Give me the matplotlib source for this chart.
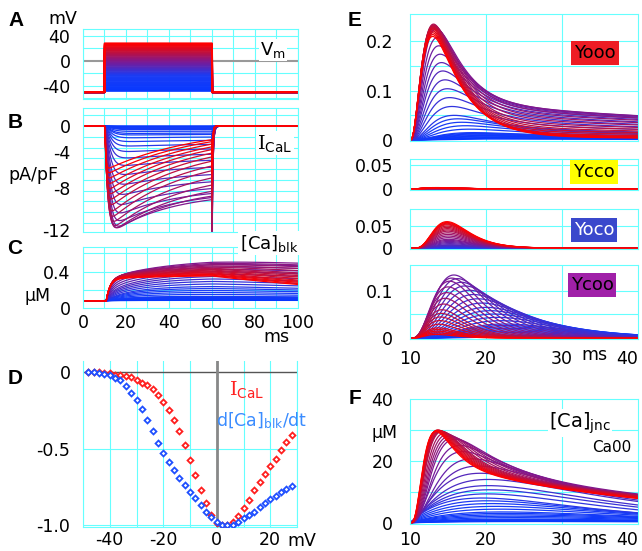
import numpy as np
import matplotlib
matplotlib.use('Agg')
import matplotlib.pyplot as plt
from matplotlib.colors import LinearSegmentedColormap

plt.rcParams['font.family'] = ['DejaVu Sans']
plt.rcParams['mathtext.fontset'] = 'dejavuserif'
plt.rcParams['axes.unicode_minus'] = False

# ---------------- data ----------------
voltages = list(range(-48, 30, 2))          # test potentials (mV), 39 steps
holding = -50                                # holding potential (mV)
pulse_on, pulse_off = 10, 60                 # ms

# Panel D: normalised peak ICaL and peak d[Ca]blk/dt
ical_norm = [0.0, -0.002, -0.004, -0.007, -0.011, -0.018, -0.022, -0.028, -0.035, -0.052,
             -0.072, -0.087, -0.115, -0.152, -0.196, -0.25, -0.313, -0.387, -0.476, -0.572,
             -0.672, -0.772, -0.854, -0.93, -0.985, -1.0, -1.0, -0.978, -0.937, -0.887,
             -0.833, -0.772, -0.717, -0.665, -0.615, -0.565, -0.511, -0.459, -0.413]
dca_norm = [0.0, -0.002, -0.007, -0.013, -0.022, -0.039, -0.054, -0.093, -0.135, -0.183,
            -0.241, -0.311, -0.385, -0.461, -0.528, -0.585, -0.637, -0.691, -0.737, -0.78,
            -0.824, -0.87, -0.913, -0.948, -0.98, -1.0, -1.0, -0.998, -0.978, -0.954,
            -0.933, -0.911, -0.883, -0.854, -0.828, -0.807, -0.785, -0.765, -0.741]

# Panel B: peak current and per-voltage kinetics (estimated)
ical_peak = 11.8                                     # pA/pF
vp = [-48, -30, -20, -10, 0, 10, 20, 28]
b_end_frac = [0.95, 0.93, 0.86, 0.76, 0.66, 0.45, 0.35, 0.30]
b_tau_act = [3.0, 2.5, 2.2, 1.8, 1.4, 0.8, 0.5, 0.4]
b_tau_inact = [40, 38, 34, 30, 28, 35, 40, 42]
b_tau_tail = [0.9, 0.8, 0.7, 0.5, 0.4, 0.35, 0.3, 0.3]

# Panel C: [Ca]blk
ca_base = 0.08
c_fast = [0.0, 0.004, 0.02, 0.10, 0.24, 0.26, 0.25, 0.24]
c_tfast = [3, 3, 3, 2.6, 2.2, 2.0, 1.9, 1.8]
c_slow = [0.004, 0.045, 0.14, 0.21, 0.22, 0.12, 0.07, 0.04]
c_tslow = [12, 12, 14, 20, 28, 30, 30, 30]
c_tdecay = [250, 250, 260, 300, 450, 200, 120, 90]

# Panel E: channel states (peak, rise tau, decay tau, plateau fraction)
yooo_A = [0.002, 0.015, 0.05, 0.14, 0.225, 0.235, 0.225, 0.21]
yooo_tr = [4.5, 3.5, 2.6, 2.0, 1.6, 1.45, 1.35, 1.3]
yooo_td = [10, 7, 5, 3.6, 3.2, 3.2, 3.5, 3.8]
yooo_c = [0.3, 0.22, 0.15, 0.13, 0.1, 0.05, 0.02, 0.01]
ycco_A = [0, 0, 0, 0.0003, 0.001, 0.002, 0.003, 0.003]
yoco_A = [0, 0.0005, 0.002, 0.008, 0.02, 0.038, 0.052, 0.059]
yoco_tr = [3.5, 3.3, 3.1, 2.9, 2.7, 2.6, 2.5, 2.5]
v4 = [-48, -30, -20, -10, -4, 0, 10, 20, 28]
ycoo_A = [0.003, 0.03, 0.065, 0.11, 0.133, 0.12, 0.06, 0.022, 0.008]
ycoo_tr = [9, 8, 6.5, 4.5, 3.4, 3.0, 2.3, 2.0, 1.9]
ycoo_td = [9, 7.5, 6, 4.5, 3.8, 3.5, 3.0, 2.7, 2.5]

# Panel F: [Ca]jnc
vF = [-48, -40, -30, -20, -14, -10, -4, 0, 10, 20, 28]
f_A = [0.4, 1.2, 3.5, 8, 12, 16, 23, 27, 29.5, 30, 29.5]
f_tr = [40, 32, 24, 13, 8, 5, 2.6, 1.9, 1.5, 1.4, 1.35]
f_n = [1, 1, 1, 1, 1.3, 1.8, 3, 4, 4, 4, 4]
f_td = [3, 3, 3, 3.5, 4, 5, 6, 5.5, 3.2, 2.5, 2.2]
f_c = [1, 1, 1, 1, 0.8, 0.6, 0.4, 0.34, 0.24, 0.19, 0.17]
f_ts = [20, 18, 16, 14, 18, 22, 28, 35, 33, 31, 30]

# ---------------- helpers ----------------
V = np.array(voltages, dtype=float)
nV = len(V)
def P(vlist, plist):
    return np.interp(V, vlist, plist)

cmap = LinearSegmentedColormap.from_list('bp', [(0, '#0838ff'), (0.33, '#1a3cf5'),
                                                (0.63, '#80188f'), (0.82, '#c0103c'),
                                                (1.0, '#ff0000')])
cols = [cmap(i / (nV - 1)) for i in range(nV)]

tB = np.linspace(0, 100, 4001)
tE = np.linspace(10, 40, 1201)

def shape(t, t0, A, tr, n, td, c, ts):
    s = np.clip(t - t0, 0, None)
    y = (1 - np.exp(-s / tr)) ** n * (c * np.exp(-s / ts) + (1 - c) * np.exp(-s / td))
    m = y.max()
    return A * y / m if m > 0 else y

W, H = 642, 551
fig = plt.figure(figsize=(W / 100, H / 100), dpi=100)

def add_ax(l, t, r, b):
    return fig.add_axes([l / W, 1 - b / H, (r - l) / W, (b - t) / H])

def ftext(x, y, s, **kw):
    kw.setdefault('ha', 'center')
    kw.setdefault('va', 'center')
    return fig.text(x / W, 1 - y / H, s, **kw)

GC = '#66ffff'
def style(ax, xl, yl, hgrid, vgrid, pad=8):
    ax.set_xlim(*xl)
    ax.set_ylim(*yl)
    for sp in ax.spines.values():
        sp.set_color(GC)
        sp.set_linewidth(0.8)
    ax.tick_params(length=0, labelsize=12.5, pad=pad)
    for y in hgrid:
        ax.axhline(y, color=GC, lw=0.8, zorder=0)
    for x in vgrid:
        ax.axvline(x, color=GC, lw=0.8, zorder=0)

# ---------------- A: voltage protocol ----------------
axA = add_ax(83, 29, 298, 99)
style(axA, (0, 100), (-61, 51), [-60, -40, -20, 20, 40], range(0, 101, 10), pad=9)
axA.axhline(0, color='#999999', lw=1.5, zorder=1)
for i in range(nV):
    vt = np.where((tB >= pulse_on) & (tB <= pulse_off), V[i], holding)
    axA.plot(tB, vt, color=cols[i], lw=1.4, zorder=2)
axA.set_xticks([])
axA.set_yticks([40, 0, -40])

# ---------------- B: ICaL ----------------
axB = add_ax(83, 108, 298, 232)
style(axB, (0, 100), (-12.3, 2.1), np.arange(-12.5, 2, 1.25), range(0, 101, 10), pad=9)
b_fe = P(vp, b_end_frac); b_ta = P(vp, b_tau_act); b_ti = P(vp, b_tau_inact); b_tt = P(vp, b_tau_tail)
Ipk = ical_peak * np.abs(np.array(ical_norm))
for i in range(nV):
    s = np.clip(tB - pulse_on, 0, None)
    e = np.exp(-50 / b_ti[i])
    f = max((b_fe[i] - e) / (1 - e), 0)
    y = (1 - np.exp(-s / b_ta[i])) ** 2 * (f + (1 - f) * np.exp(-s / b_ti[i]))
    on = tB <= pulse_off
    y = y / y[on].max()
    I = -Ipk[i] * y
    I60 = I[on][-1]
    aft = tB > pulse_off
    I[aft] = I60 * (110 / (60 - V[i])) * np.exp(-(tB[aft] - pulse_off) / b_tt[i])
    axB.plot(tB, I, color=cols[i], lw=0.9, zorder=2)
axB.set_xticks([])
# tick labels sit where the reference prints them (a little above the true -4 / -8 levels)
axB.set_yticks([0, -3.05, -7.2, -12.05])
axB.set_yticklabels(['0', '-4', '-8', '-12'])

# ---------------- C: [Ca]blk ----------------
axC = add_ax(83, 247, 298, 308)
style(axC, (0, 100), (0, 0.67), [0.2, 0.4, 0.6], range(0, 101, 10), pad=9)
cF = P(vp, c_fast); ctf = P(vp, c_tfast); cG = P(vp, c_slow); ctg = P(vp, c_tslow); ctd = P(vp, c_tdecay)
for i in range(nV):
    s = np.clip(tB - 10.8, 0, None)
    y = cF[i] * (1 - np.exp(-s / ctf[i])) + cG[i] * (1 - np.exp(-s / ctg[i]))
    dec = np.where(tB > pulse_off, np.exp(-(tB - pulse_off) / ctd[i]), 1.0)
    axC.plot(tB, ca_base + y * dec, color=cols[i], lw=0.9, zorder=2)
axC.set_xticks(range(0, 101, 20))
axC.set_yticks([0.4, 0])
axC.set_yticklabels(['0.4', '0'])
axC.tick_params(axis='x', pad=4)

# ---------------- D: I-V ----------------
axD = add_ax(83, 361, 297, 527)
style(axD, (-50, 30), (-1.01, 0.07), [-0.5, -1.0], range(-50, 31, 10), pad=9)
axD.spines['top'].set_visible(False)
axD.axhline(0, color='#555555', lw=1.0, zorder=1)
axD.axvline(0, color='#888888', lw=2.0, zorder=1)
axD.plot(voltages, ical_norm, ls='none', marker='D', ms=3.0, mfc='white', mec='#ff2020', mew=1.3, zorder=3)
axD.plot(voltages, dca_norm, ls='none', marker='D', ms=3.0, mfc='white', mec='#2050ff', mew=1.3, zorder=3)
axD.set_xticks([-40, -20, 0, 20])
axD.set_yticks([0, -0.5, -1.0])
axD.set_yticklabels(['0', '-0.5', '-1.0'])
axD.tick_params(axis='x', pad=3)

# ---------------- E: channel states ----------------
y1A = P(vp, yooo_A); y1tr = P(vp, yooo_tr); y1td = P(vp, yooo_td); y1c = P(vp, yooo_c)
y2A = P(vp, ycco_A)
y3A = P(vp, yoco_A); y3tr = P(vp, yoco_tr)
y4A = P(v4, ycoo_A); y4tr = P(v4, ycoo_tr); y4td = P(v4, ycoo_td)

axE1 = add_ax(410, 14, 638, 141)
style(axE1, (10, 40), (-0.002, 0.2555), [0.05, 0.1, 0.15, 0.2], [20, 30], pad=12)
axE2 = add_ax(410, 159, 638, 190)
style(axE2, (10, 40), (-0.0015, 0.062), [0.05], [20, 30], pad=12)
axE3 = add_ax(410, 209, 638, 249)
style(axE3, (10, 40), (-0.0015, 0.087), [0.05], [20, 30], pad=12)
axE4 = add_ax(410, 265, 638, 339)
style(axE4, (10, 40), (-0.0015, 0.154), [0.05, 0.1], [20, 30], pad=12)
for i in range(nV):
    axE1.plot(tE, shape(tE, 10, y1A[i], y1tr[i], 3, y1td[i], y1c[i], 60), color=cols[i], lw=0.9)
    axE2.plot(tE, shape(tE, 10, y2A[i], 2.0, 3, 3.0, 0.0, 60), color=cols[i], lw=1.2)
    axE3.plot(tE, shape(tE, 10, y3A[i], y3tr[i], 6, 2.5, 0.0, 60), color=cols[i], lw=0.9)
    axE4.plot(tE, shape(tE, 10, y4A[i], y4tr[i], 4, y4td[i], 0.0, 60), color=cols[i], lw=0.9)
for ax in (axE1, axE2, axE3):
    ax.set_xticks([])
axE1.set_yticks([0, 0.1, 0.2]); axE1.set_yticklabels(['0', '0.1', '0.2'])
axE2.set_yticks([0, 0.05]); axE2.set_yticklabels(['0', '0.05'])
axE3.set_yticks([0, 0.05]); axE3.set_yticklabels(['0', '0.05'])
axE4.set_yticks([0, 0.1]); axE4.set_yticklabels(['0', '0.1'])
axE4.set_xticks([10, 20, 30, 40])
axE4.tick_params(axis='x', pad=8)
axE4.get_xticklabels()[-1].set_ha('right')

# ---------------- F: [Ca]jnc ----------------
axF = add_ax(410, 399, 638, 524)
style(axF, (10, 40), (-0.4, 40), [10, 20, 30], [20, 30], pad=12)
fA = P(vF, f_A); ftr = P(vF, f_tr); fn = P(vF, f_n); ftd = P(vF, f_td); fc = P(vF, f_c); fts = P(vF, f_ts)
for i in range(nV):
    axF.plot(tE, shape(tE, 10, fA[i], ftr[i], fn[i], ftd[i], fc[i], fts[i]), color=cols[i], lw=0.9)
axF.set_xticks([10, 20, 30, 40])
axF.set_yticks([0, 20, 40])
axF.tick_params(axis='x', pad=5)
axF.get_xticklabels()[-1].set_ha('right')

# ---------------- texts ----------------
pl = dict(fontsize=15, fontweight='bold', family='Liberation Sans')
ftext(16, 20, 'A', **pl)
ftext(15, 123, 'B', **pl)
ftext(15, 249, 'C', **pl)
ftext(15, 379, 'D', **pl)
ftext(355, 20, 'E', **pl)
ftext(355, 398, 'F', **pl)

wb = dict(facecolor='white', edgecolor='none', pad=1)
ftext(63, 19, 'mV', fontsize=12.5)
ftext(273, 50, r'V$_{\mathsf{m}}$', fontsize=13, bbox=wb)
ftext(275, 143, r'$\mathrm{I}_{\mathsf{CaL}}$', fontsize=14, bbox=wb)
ftext(33, 175, 'pA/pF', fontsize=12.5)
ftext(269, 243, r'[Ca]$_{\mathsf{blk}}$', fontsize=13, bbox=wb)
ftext(38, 296, 'µM', fontsize=12.5)
ftext(276, 337, 'ms', fontsize=12.5)
ftext(247, 390, r'$\mathrm{I}_{\mathsf{CaL}}$', fontsize=14, color='#ff2020')
ftext(262, 421, r'd[Ca]$_{\mathsf{blk}}$/dt', fontsize=12.5, color='#3a8cff')
ftext(302, 541, 'mV', fontsize=12.5)

ftext(595, 53, 'Yooo', fontsize=13, bbox=dict(facecolor='#ee1c24', edgecolor='none', pad=2))
ftext(594, 172, 'Ycco', fontsize=13, bbox=dict(facecolor='#ffff00', edgecolor='none', pad=2))
ftext(594, 230, 'Yoco', fontsize=13, color='white', bbox=dict(facecolor='#3a48cc', edgecolor='none', pad=2))
ftext(592, 285, 'Ycoo', fontsize=13, bbox=dict(facecolor='#a020a8', edgecolor='none', pad=2))
ftext(594, 355, 'ms', fontsize=12.5)
ftext(594, 539, 'ms', fontsize=12.5)
ftext(385, 433, 'µM', fontsize=12.5)
ftext(580, 423, r'[Ca]$_{\mathsf{jnc}}$', fontsize=14, bbox=wb)
ftext(612, 447, 'Ca00', fontsize=11)

fig.savefig('out.png', dpi=100)
